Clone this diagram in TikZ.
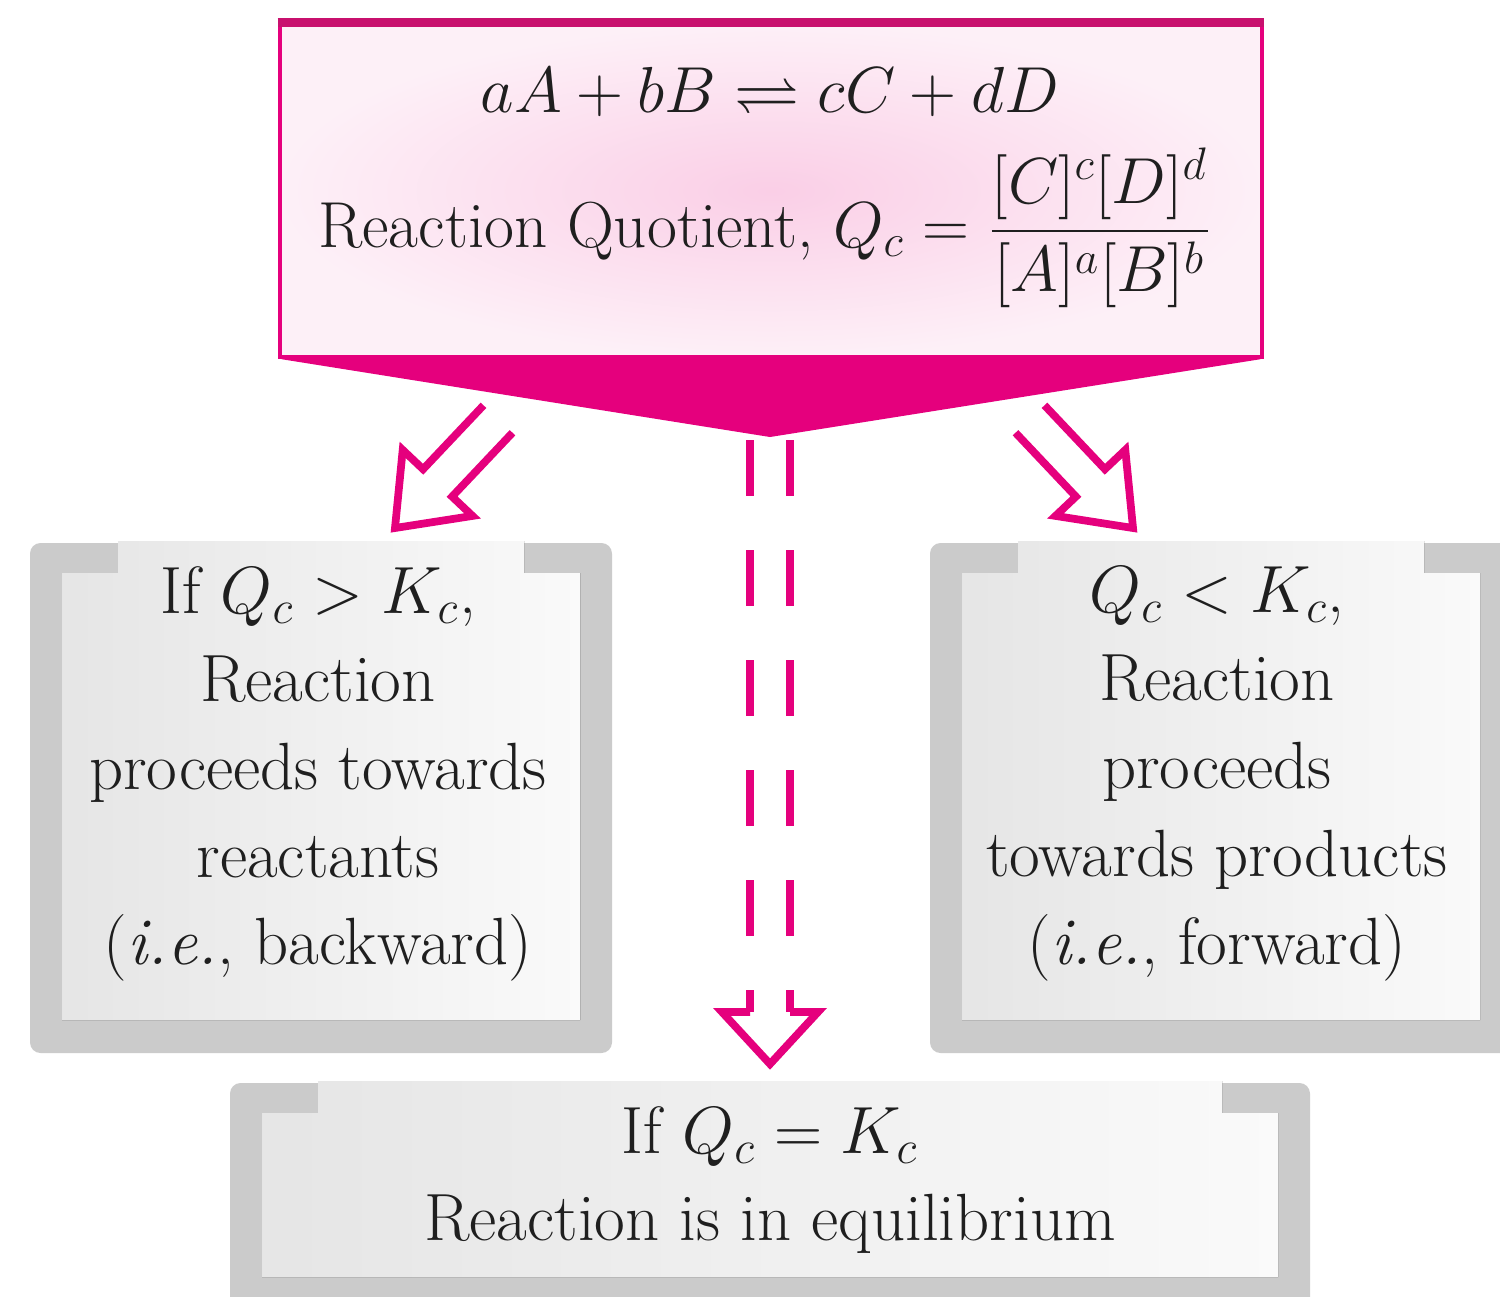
\RequirePackage{fix-cm}
\documentclass[tikz,border=0pt]{standalone}
\usepackage{amsmath, amssymb}
\usepackage{tikz}
\usetikzlibrary{calc}
\definecolor{rubine}{HTML}{E5007D}
\definecolor{rubinedark}{HTML}{C8106E}
\definecolor{framegray}{HTML}{CBCBCB}

\begin{document}
\begin{tikzpicture}[x=0.01cm, y=-0.01cm,
    every node/.style={font=\fontsize{19}{25}\selectfont, align=center, inner sep=0pt, text=black!88},
    hollowarrow/.style={draw=rubine, line width=2.2pt, line join=miter},
    framebox/.style={fill=framegray, rounded corners=3pt},
    cardfill/.style={left color=black!10, right color=black!2}]
    \useasboundingbox (0,0) rectangle (1500,1296);
    \clip (0,0) rectangle (1500,1296);

    % quotient box with funnel
    \node[draw=rubine, line width=1.2pt, inner color=rubine!19, outer color=rubine!6,
          minimum width=9.82cm, minimum height=3.32cm] (quot) at (771,191) {};
    \draw[rubinedark, line width=2.5pt] (quot.north west) -- (quot.north east);
    \coordinate (apex) at (770,437);
    \fill[rubine] ($(quot.south west)+(4,0)$) -- ($(quot.south east)+(-4,0)$) -- (apex) -- cycle;
    \node[font=\fontsize{18.5}{25}\selectfont] (eqn) at (770,92) {$aA + bB \rightleftharpoons cC + dD$};
    \node[font=\fontsize{18.5}{25}\selectfont] (qc) at (765,228) {Reaction Quotient, $Q_c = \dfrac{[C]^c[D]^d}{[A]^a[B]^b}$};

    % gray bracket cards
    \foreach \xa/\ya/\xb/\yb in {30/543/612/1053, 930/543/1512/1053, 230/1083/1310/1310} {
      \fill[framebox] (\xa,\ya) rectangle (\xb,\yb);
      \fill[cardfill] (\xa+32,\ya+30) -- (\xa+88,\ya+30) -- (\xa+88,\ya-2) -- (\xb-88,\ya-2)
          -- (\xb-88,\ya+30) -- (\xb-32,\ya+30) -- (\xb-32,\yb-33) -- (\xa+32,\yb-33) -- cycle;
    }
    \node (back) at (318,774) {If $Q_c > K_c$,\\Reaction\\proceeds towards\\reactants\\(\textit{i.e.}, backward)};
    \node (fwd) at (1217,774) {$Q_c < K_c$,\\Reaction\\proceeds\\towards products\\(\textit{i.e.}, forward)};
    \node (equil) at (770,1180) {If $Q_c = K_c$\\Reaction is in equilibrium};

    % hollow arrows
    \coordinate (tipL) at (395,528);
    \coordinate (tipR) at (1133,528);
    \coordinate (tipC) at (770,1064);
    \foreach \tip/\s in {tipL/1, tipR/-1}
      \draw[hollowarrow] ($(\tip)+(\s*117.5,-95.3)$) -- ($(\tip)+(\s*57.1,-31.4)$)
          -- ($(\tip)+(\s*77.5,-12.1)$) -- (\tip) -- ($(\tip)+(\s*7.7,-78.1)$)
          -- ($(\tip)+(\s*28.1,-58.8)$) -- ($(\tip)+(\s*88.5,-122.7)$);
    \foreach \s in {-1,1}
      \draw[hollowarrow, dash pattern=on 15.9pt off 15.4pt] ($(apex)+(\s*20,3)$) -- ($(tipC)+(\s*20,-52)$);
    \draw[hollowarrow] ($(tipC)+(-20,-52)$) -- ($(tipC)+(-48,-52)$) -- (tipC)
        -- ($(tipC)+(48,-52)$) -- ($(tipC)+(20,-52)$);
\end{tikzpicture}
\end{document}
